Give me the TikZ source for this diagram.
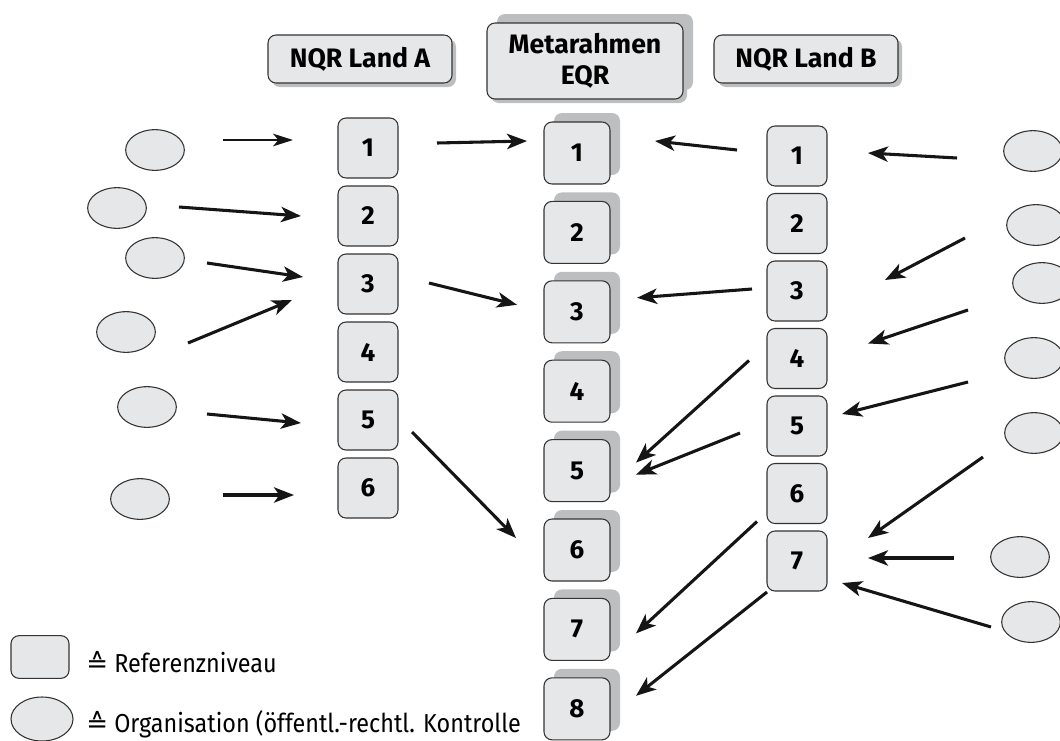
\documentclass[tikz,border=0pt]{standalone}
\usepackage{fontspec}
\setmainfont{Fira Sans}
\newfontfamily\symfont{DejaVu Sans}
\newfontfamily\legendfont[FakeStretch=0.9]{Fira Sans}
\usetikzlibrary{arrows.meta,calc,shapes.geometric,shadows}

\definecolor{boxfill}{HTML}{E6E7E8}
\definecolor{boxline}{HTML}{333333}
\definecolor{shadowgray}{HTML}{BCBEC0}
\definecolor{arrowblack}{HTML}{151515}

\tikzset{
  levelbox/.style={draw=boxline, line width=0.8pt, fill=boxfill, rounded corners=6pt,
    minimum width=45pt, minimum height=45pt, inner sep=0pt,
    font=\fontsize{19.5}{22}\selectfont\bfseries},
  eqrbox/.style={levelbox, minimum width=49.5pt, minimum height=46.5pt,
    general shadow={fill=shadowgray, shadow xshift=7.5pt, shadow yshift=6.75pt}},
  headbox/.style={draw=boxline, line width=0.8pt, fill=boxfill, rounded corners=6pt,
    minimum width=138pt, minimum height=36pt, inner sep=0pt, align=center,
    font=\fontsize{20}{23}\selectfont\bfseries,
    general shadow={fill=shadowgray, shadow xshift=3pt, shadow yshift=-3pt}},
  orgell/.style={ellipse, draw=boxline, line width=0.8pt, fill=boxfill,
    minimum width=44pt, minimum height=30.5pt, inner sep=0pt},
  arr/.style={draw=arrowblack, line width=2.3pt,
    -{Stealth[length=15pt, width=11.5pt, inset=4pt]}},
  thinarr/.style={draw=arrowblack, line width=1.1pt,
    -{Stealth[length=15pt, width=9.5pt, inset=4pt]}},
  legendtext/.style={anchor=west, inner sep=0pt, font=\legendfont\fontsize{19.5}{22}\selectfont}
}

\begin{document}
\begin{tikzpicture}[x=0.75pt, y=-0.75pt]
\useasboundingbox (0,0) rectangle (1060,740);

% column headings
\node[headbox] (ha) at (360,59) {NQR Land A};
\node[headbox, minimum width=147pt, minimum height=57pt,
  general shadow={fill=shadowgray, shadow xshift=7.5pt, shadow yshift=6.75pt}]
  (he) at (585,61) {Metarahmen\\EQR};
\node[headbox] (hb) at (806,59) {NQR Land B};

% reference levels of country A
\foreach \i in {1,...,6}
  \node[levelbox] (la\i) at (368,{148+68*(\i-1)}) {\i};

% reference levels of the EQR
\foreach \i in {1,...,8}
  \node[eqrbox] (e\i) at (577,{153+79.4*(\i-1)}) {\i};

% reference levels of country B
\foreach \i in {1,...,7}
  \node[levelbox] (lb\i) at (797,{156+67.5*(\i-1)}) {\i};

% organisations of country A
\node[orgell] (oa1) at (155,150) {};
\node[orgell] (oa2) at (117,208) {};
\node[orgell] (oa3) at (155,258) {};
\node[orgell] (oa4) at (126,332) {};
\node[orgell] (oa5) at (147,407) {};
\node[orgell] (oa6) at (140,499) {};

% organisations of country B
\node[orgell] (ob1) at (1033,151) {};
\node[orgell] (ob2) at (1036,225) {};
\node[orgell] (ob3) at (1042,283) {};
\node[orgell] (ob4) at (1034,358) {};
\node[orgell] (ob5) at (1034,433) {};
\node[orgell] (ob6) at (1020,557) {};
\node[orgell] (ob7) at (1031,622) {};

% organisations -> levels of country A
\draw[thinarr] ($(oa1)+(68,-10)$) -- ($(la1)+(-75,-8)$);
\draw[arr] ($(oa2)+(62,-1)$) -- ($(la2)+(-67,0)$);
\draw[arr] ($(oa3)+(52,5)$) -- ($(la3)+(-65,-7)$);
\draw[arr] ($(oa4)+(62,11)$) -- ($(la3)+(-76,16)$);
\draw[arr] ($(oa5)+(60,7)$) -- ($(la5)+(-67,3)$);
\draw[arr] ($(oa6)+(83,-4)$) -- ($(la6)+(-74,7)$);

% country A -> EQR
\draw[arr] ($(la1)+(69,-5)$) -- ($(e1)+(-50,-12)$);
\draw[arr] ($(la3)+(61,-1)$) -- ($(e3)+(-60,-7)$);
\draw[arr] ($(la5)+(44,12)$) -- ($(e6)+(-61,-12)$);

% country B -> EQR
\draw[arr] ($(lb1)+(-60,-6)$) -- ($(e1)+(78,-12)$);
\draw[arr] ($(lb3)+(-45,-2)$) -- ($(e3)+(60,-14)$);
\draw[arr] ($(lb4)+(-48,2)$) -- ($(e5)+(59,-8)$);
\draw[arr] ($(lb5)+(-57,7)$) -- ($(e5)+(59,4)$);
\draw[arr] ($(lb6)+(-40,28)$) -- ($(e7)+(59,4)$);
\draw[arr] ($(lb7)+(-30,31)$) -- ($(e8)+(59,-13)$);

% organisations -> levels of country B
\draw[arr] ($(ob1)+(-76,7)$) -- ($(lb1)+(71,-3)$);
\draw[arr] ($(ob2)+(-71,13)$) -- ($(lb3)+(88,-11)$);
\draw[arr] ($(ob3)+(-74,27)$) -- ($(lb4)+(71,-15)$);
\draw[arr] ($(ob4)+(-66,24)$) -- ($(lb5)+(45,-12)$);
\draw[arr] ($(ob5)+(-51,24)$) -- ($(lb7)+(71,-23)$);
\draw[arr] ($(ob6)+(-66,1)$) -- ($(lb7)+(71,-3)$);
\draw[arr] ($(ob7)+(-40,5)$) -- ($(lb7)+(45,22)$);

% legend
\node[levelbox, minimum width=43.5pt, minimum height=32pt] (keybox) at (40,657) {};
\node[orgell, minimum width=46.5pt, minimum height=33pt] (keyell) at (42,719) {};
\node[legendtext] (keyboxtext) at (86,662) {{\symfont ≙} Referenzniveau};
\node[legendtext] (keyelltext) at (86,724) {{\symfont ≙} Organisation (öffentl.-rechtl. Kontrolle};
\end{tikzpicture}
\end{document}
